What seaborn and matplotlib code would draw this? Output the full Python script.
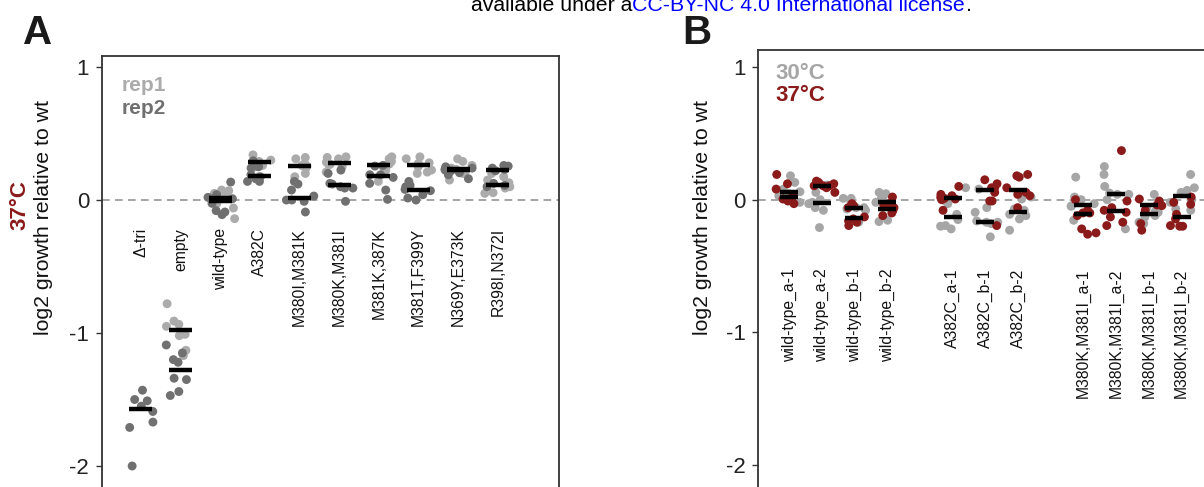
import numpy as np
import pandas as pd
import matplotlib
matplotlib.use("Agg")
import matplotlib.pyplot as plt
import seaborn as sns

# ---------------- Panel A data (37°C, two replicates) ----------------
a_categories = ["Δ-tri", "empty", "wild-type", "A382C", "M380I,M381K", "M380K,M381I",
                "M381K,387K", "M381T,F399Y", "N369Y,E373K", "R398I,N372I"]
a_rep1 = [
    [],
    [-0.78, -0.935, -0.95, -1.02, -1.01, -0.91, -1.13, -1.17],
    [0.075, 0.07, 0.05, 0.0, -0.025, -0.06, -0.14, 0.03],
    [0.275, 0.29, 0.34, 0.245, 0.175, 0.30, 0.26, 0.29],
    [0.24, 0.255, 0.2, 0.32, 0.31, 0.275, 0.175, 0.26],
    [0.325, 0.31, 0.25, 0.21, 0.285, 0.27, 0.265, 0.32],
    [0.325, 0.31, 0.225, 0.14, 0.27, 0.26, 0.24, 0.29],
    [0.28, 0.325, 0.31, 0.275, 0.225, 0.21, 0.25, 0.2],
    [0.15, 0.21, 0.29, 0.31, 0.24, 0.2, 0.26, 0.23],
    [0.175, 0.1, 0.055, 0.05, 0.13, 0.2, 0.09, 0.15],
]
a_rep2 = [
    [-1.43, -1.51, -1.50, -1.55, -1.59, -1.67, -1.71, -2.0],
    [-1.09, -1.15, -1.20, -1.22, -1.34, -1.35, -1.44, -1.47],
    [0.01, 0.135, 0.04, 0.02, -0.09, -0.11, -0.08, -0.025],
    [0.295, 0.25, 0.24, 0.19, 0.175, 0.14, 0.14, 0.16],
    [0.14, 0.12, 0.0, 0.0, 0.03, 0.075, -0.09, -0.01],
    [0.2, 0.225, 0.125, 0.09, 0.09, 0.1, -0.01, 0.12],
    [0.26, 0.255, 0.19, 0.19, 0.125, 0.075, 0.005, 0.17],
    [0.11, 0.14, 0.1, 0.07, 0.04, 0.015, 0.0, 0.08],
    [0.225, 0.23, 0.25, 0.24, 0.205, 0.16, 0.19, 0.22],
    [0.26, 0.255, 0.23, 0.125, 0.11, 0.1, 0.24, 0.22],
]
a_series = ["rep1", "rep2"]

# ---------------- Panel B data (30°C vs 37°C) ----------------
b_categories = ["wild-type_a-1", "wild-type_a-2", "wild-type_b-1", "wild-type_b-2", " ",
                "A382C_a-1", "A382C_b-1", "A382C_b-2", "  ",
                "M380K,M381I_a-1", "M380K,M381I_a-2", "M380K,M381I_b-1", "M380K,M381I_b-2"]
b_30c = [
    [0.18, 0.13, 0.08, 0.045, -0.02, 0.06, 0.03, 0.05],
    [-0.03, -0.08, -0.06, -0.21, 0.055, 0.11, 0.0, -0.02],
    [-0.08, -0.06, 0.01, 0.01, -0.17, -0.06, -0.01, -0.07],
    [0.005, 0.045, 0.055, -0.165, -0.155, -0.02, -0.03, -0.01],
    [],
    [-0.03, -0.22, -0.2, -0.195, 0.09, -0.01, -0.15, -0.11],
    [-0.095, -0.06, -0.16, -0.17, -0.28, -0.17, -0.18, 0.08],
    [0.005, -0.07, -0.145, -0.11, -0.23, -0.08, -0.12, 0.02],
    [],
    [0.17, 0.02, -0.045, -0.03, -0.09, -0.155, 0.0, -0.05],
    [0.25, 0.19, 0.1, 0.04, 0.04, -0.22, 0.0, 0.05],
    [0.04, -0.095, -0.09, -0.13, -0.12, -0.17, -0.18, -0.06],
    [0.19, 0.09, 0.07, 0.055, -0.07, -0.08, 0.0, -0.02],
]
b_37c = [
    [0.19, 0.12, 0.08, -0.01, 0.04, 0.005, -0.03, 0.0],
    [0.105, 0.105, 0.14, 0.105, 0.13, 0.12, 0.055, 0.09],
    [-0.03, -0.045, -0.06, -0.195, -0.145, -0.13, -0.17, -0.16],
    [-0.08, -0.06, 0.02, -0.08, -0.04, -0.1, -0.12, -0.03],
    [],
    [0.1, 0.03, 0.005, 0.017, 0.04, 0.01, -0.08, 0.0],
    [0.12, 0.09, 0.09, 0.15, 0.055, -0.01, -0.01, -0.195],
    [0.19, 0.17, 0.09, 0.04, 0.03, 0.055, -0.06, 0.18],
    [],
    [0.0, -0.1, -0.08, -0.1, -0.12, -0.26, -0.25, -0.22],
    [0.37, -0.01, -0.06, -0.08, -0.095, -0.13, -0.17, -0.195],
    [-0.01, 0.005, -0.03, -0.04, -0.045, -0.08, -0.18, -0.23],
    [-0.02, -0.035, 0.02, -0.11, -0.145, -0.2, -0.2, -0.195],
]
b_series = ["30°C", "37°C"]

y_ticks = [1, 0, -1, -2]
y_tick_labels = ["1", "0", "-1", "-2"]
ylabel = "log2 growth relative to wt"

# ---------------- styling ----------------
sns.set_theme(style="white")
plt.rcParams["font.family"] = ["Liberation Sans", "DejaVu Sans"]
plt.rcParams["axes.unicode_minus"] = False

REP1 = "#ABABAB"
REP2 = "#707070"
C30 = "#A6A6A6"
C37 = "#8B1A1A"
SPINE = "#333333"


def long_frame(categories, series_names, series_values):
    rows = []
    for name, vals in zip(series_names, series_values):
        for cat, lst in zip(categories, vals):
            for v in lst:
                rows.append({"category": cat, "series": name, "value": v})
    return pd.DataFrame(rows)


df_a = long_frame(a_categories, a_series, [a_rep1, a_rep2])
df_b = long_frame(b_categories, b_series, [b_30c, b_37c])

W, H = 1204, 487
fig = plt.figure(figsize=(W / 100, H / 100), dpi=100)

# axes placed in pixel geometry (bottom extends beyond the cropped figure)
ylo = -2.3
a_top = 1.083
b_top = 1.128
ppu = 133.0  # pixels per y unit
a_bot_px = 200 + (-ylo) * ppu
ax_a = fig.add_axes([101.5 / W, (H - a_bot_px) / H, 457.5 / W, (a_bot_px - 56) / H])
b_bot_px = 199 + (-ylo) * ppu
ax_b = fig.add_axes([758 / W, (H - b_bot_px) / H, 489 / W, (b_bot_px - 50) / H])


def draw_panel(ax, df, order, hue_order, palette, jitter, bar_w, ylim_top, xlim, label_y):
    np.random.seed(3)
    sns.stripplot(data=df, x="category", y="value", hue="series", order=order,
                  hue_order=hue_order, palette=palette, jitter=jitter, size=6.4,
                  linewidth=0, alpha=1, legend=False, ax=ax, zorder=2)
    med = df.groupby(["category", "series"])["value"].median().reset_index()
    for _, r in med.iterrows():
        xi = order.index(r["category"])
        ax.hlines(r["value"], xi - bar_w / 2, xi + bar_w / 2, color="black",
                  linewidth=3.2, zorder=4)
    ax.axhline(0, color="#8C8C8C", linestyle=(0, (5, 3.5)), linewidth=1.1, zorder=1)
    ax.set_xlim(*xlim)
    ax.set_ylim(ylo, ylim_top)
    ax.set_yticks(y_ticks)
    ax.set_yticklabels(y_tick_labels)
    ax.tick_params(axis="y", left=True, length=4, width=1, color=SPINE, pad=5,
                   labelsize=16, labelcolor="#222222")
    ax.tick_params(axis="x", bottom=False, labelbottom=False)
    ax.set_xlabel("")
    for s in ax.spines.values():
        s.set_visible(True)
        s.set_color(SPINE)
        s.set_linewidth(1.3)
    for i, cat in enumerate(order):
        if cat.strip():
            ax.text(i, label_y, cat, rotation=90, ha="center", va="top",
                    fontsize=11.3, color="#111111", zorder=5)


draw_panel(ax_a, df_a, a_categories, a_series, [REP1, REP2], 0.38, 0.58,
           a_top, (-0.995, 10.54), -0.21)
draw_panel(ax_b, df_b, b_categories, b_series, [C30, C37], 0.42, 0.55,
           b_top, (-0.95, 14.0), -0.52)

# y labels
for ax, xc, yc in [(ax_a, -0.126, 0.64), (ax_b, -0.1125, 0.632)]:
    ax.set_ylabel(ylabel, fontsize=15.3, color="#111111")
    ax.yaxis.set_label_coords(xc, yc)
    ax.yaxis.label.set_va("center")

ax_a.text(-0.178, 0.669, "37°C", transform=ax_a.transAxes, rotation=90,
          ha="center", va="center", fontsize=16, fontweight="bold", color=C37)

# in-panel legends
ax_a.text(0.045, 0.9355, "rep1", transform=ax_a.transAxes, ha="left", va="center",
          fontsize=15, fontweight="bold", color=REP1)
ax_a.text(0.045, 0.884, "rep2", transform=ax_a.transAxes, ha="left", va="center",
          fontsize=15, fontweight="bold", color=REP2)
ax_b.text(0.035, 0.9485, "30°C", transform=ax_b.transAxes, ha="left", va="center",
          fontsize=16, fontweight="bold", color=C30)
ax_b.text(0.035, 0.900, "37°C", transform=ax_b.transAxes, ha="left", va="center",
          fontsize=16, fontweight="bold", color=C37)

# panel letters
fig.text(38 / W, (H - 44) / H, "A", ha="center", va="baseline", fontsize=29,
         fontweight="bold", color="#1a1a1a")
fig.text(697 / W, (H - 44) / H, "B", ha="center", va="baseline", fontsize=29,
         fontweight="bold", color="#1a1a1a")

# license line (cropped at top)
yb = (H - 11) / H
fig.text(632 / W, yb, "available under a", ha="right", va="baseline", fontsize=15.3,
         color="black")
fig.text(632 / W, yb, "CC-BY-NC 4.0 International license", ha="left", va="baseline",
         fontsize=15.3, color="#0000FF")
fig.text(966 / W, yb, ".", ha="left", va="baseline", fontsize=15.3, color="black")

fig.savefig("out.png", dpi=100)
